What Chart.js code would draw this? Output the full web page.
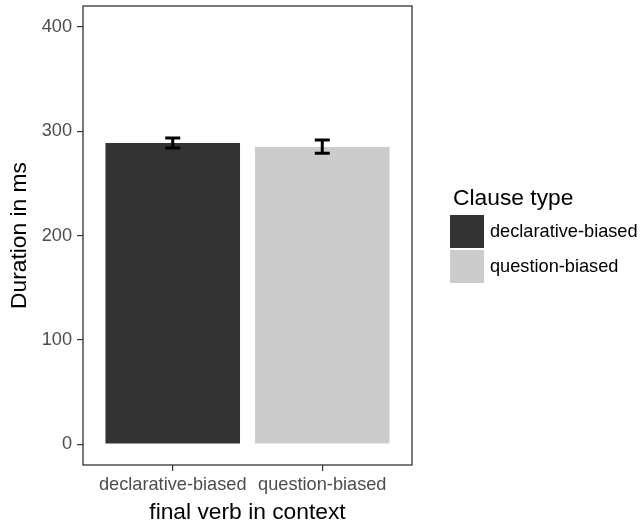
<!DOCTYPE html>
<html><head><meta charset="utf-8">
<script src="https://cdn.jsdelivr.net/npm/chart.js@4"></script>
<style>html,body{margin:0;padding:0;background:#fff;}#wrap{position:relative;width:641px;height:524px;}</style>
</head><body><div id="wrap"><canvas id="c" width="641" height="524"></canvas></div>
<script>
const categories = ['declarative-biased', 'question-biased'];
const durations = [288.7, 284.8];
const errLow = [283.8, 278.8];
const errHigh = [293.5, 291.6];
const barColors = ['#333333', '#cccccc'];
const yTicks = [0, 100, 200, 300, 400];
const legendTitle = 'Clause type';
const xTitle = 'final verb in context';
const yTitle = 'Duration in ms';

const FONT = "'Liberation Sans', Arial, sans-serif";
const SMALL = 18.2, BIG = 22.8;

const extras = {
  id: 'extras',
  afterDatasetsDraw(chart) {
    const {ctx, chartArea: a, scales: {x, y}} = chart;
    ctx.save();
    ctx.strokeStyle = '#000';
    ctx.lineWidth = 3;
    ctx.lineCap = 'butt';
    categories.forEach((c, i) => {
      const px = x.getPixelForValue(i + 1);
      const yl = y.getPixelForValue(errLow[i]);
      const yh = y.getPixelForValue(errHigh[i]);
      ctx.beginPath();
      ctx.moveTo(px, yl); ctx.lineTo(px, yh);
      ctx.moveTo(px - 7.5, yl); ctx.lineTo(px + 7.5, yl);
      ctx.moveTo(px - 7.5, yh); ctx.lineTo(px + 7.5, yh);
      ctx.stroke();
    });
    ctx.strokeStyle = '#333333';
    ctx.lineWidth = 1.3;
    ctx.strokeRect(a.left, a.top, a.right - a.left, a.bottom - a.top);

    // legend
    const lx = 450, ly = 215, key = 34;
    ctx.fillStyle = '#000';
    ctx.font = BIG + 'px ' + FONT;
    ctx.textAlign = 'left';
    ctx.textBaseline = 'alphabetic';
    ctx.fillText(legendTitle, lx + 3, 204.5);
    ctx.font = SMALL + 'px ' + FONT;
    ctx.textBaseline = 'middle';
    categories.forEach((c, i) => {
      const ky = ly + i * (key + 1);
      ctx.fillStyle = barColors[i];
      ctx.fillRect(lx, ky, key, key - 1);
      ctx.fillStyle = '#000';
      ctx.fillText(c, lx + 40, ky + key / 2);
    });
    ctx.restore();
  }
};

new Chart(document.getElementById('c'), {
  type: 'bar',
  data: {
    datasets: [{
      data: categories.map((c, i) => ({x: i + 1, y: durations[i]})),
      backgroundColor: barColors,
      borderWidth: 0,
      barPercentage: 0.9,
      categoryPercentage: 1.0
    }]
  },
  options: {
    responsive: false,
    animation: false,
    devicePixelRatio: 1,
    layout: {padding: {left: 0, right: 229, top: 6, bottom: 0}},
    plugins: {legend: {display: false}, tooltip: {enabled: false}},
    scales: {
      x: {
        type: 'linear',
        min: 0.4, max: 2.6,
        offset: false,
        afterBuildTicks: s => { s.ticks = categories.map((c, i) => ({value: i + 1})); },
        afterFit: s => { s.height = 59; s.paddingLeft = 0; s.paddingRight = 0; },
        ticks: {
          callback: v => categories[v - 1],
          color: '#4d4d4d',
          font: {family: FONT, size: SMALL},
          padding: 3,
          maxRotation: 0,
          autoSkip: false
        },
        grid: {offset: false, drawOnChartArea: false, drawTicks: true, tickLength: 6, color: '#333333', lineWidth: 1.2},
        border: {display: false},
        title: {display: true, text: xTitle, color: '#000', font: {family: FONT, size: BIG, lineHeight: 1}, padding: {top: 0, bottom: 0}}
      },
      y: {
        min: -20, max: 420,
        afterBuildTicks: s => { s.ticks = yTicks.map(v => ({value: v})); },
        afterFit: s => { s.width = 83; s.paddingTop = 0; s.paddingBottom = 0; },
        ticks: {
          color: '#4d4d4d',
          font: {family: FONT, size: SMALL},
          padding: 5
        },
        grid: {drawOnChartArea: false, drawTicks: true, tickLength: 6, color: '#333333', lineWidth: 1.2},
        border: {display: false},
        title: {display: true, text: yTitle, color: '#000', font: {family: FONT, size: BIG, lineHeight: 1.2}, padding: {top: 6, bottom: 0}}
      }
    }
  },
  plugins: [extras]
});
</script>
</body></html>
